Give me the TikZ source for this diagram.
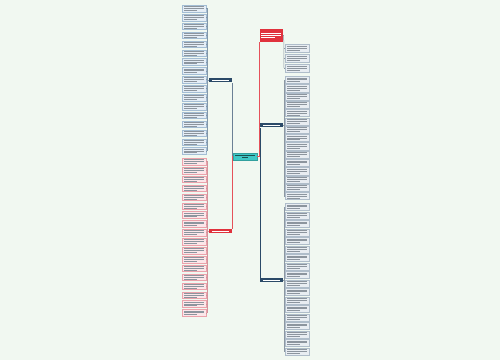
\documentclass[tikz,border=0pt]{standalone}
\usetikzlibrary{calc}
\definecolor{bg}{HTML}{F1F8F1}
\definecolor{navy}{HTML}{2B4A68}
\definecolor{redn}{HTML}{E0323D}
\definecolor{teal}{HTML}{3EC8C6}
\definecolor{lbfill}{HTML}{E4EDF6}
\definecolor{lbline}{HTML}{A3BDD4}
\definecolor{lpfill}{HTML}{FCE6E9}
\definecolor{lpline}{HTML}{EBA2AB}
\definecolor{rfill}{HTML}{E8EDF2}
\definecolor{rline}{HTML}{AFBDCA}
\definecolor{txt}{HTML}{8C959E}
\newcommand{\lthree}{\rule{20pt}{0.6pt}\\\rule{20pt}{0.6pt}\\\rule{13pt}{0.6pt}}
\newcommand{\lwthree}{\rule{20pt}{0.7pt}\\\rule{20pt}{0.7pt}\\\rule{14pt}{0.7pt}}
\tikzset{
  leafbase/.style={rectangle, draw, line width=0.3pt, minimum width=24pt,
    inner sep=0pt, anchor=north west, align=left, text=txt,
    font=\fontsize{2}{1.9}\selectfont},
  leafB/.style={leafbase, fill=lbfill, draw=lbline, minimum height=6.6pt},
  leafP/.style={leafbase, fill=lpfill, draw=lpline, minimum height=6.6pt},
  leafR/.style={leafbase, fill=rfill, draw=rline, minimum height=7.2pt},
  bnode/.style={rectangle, fill=navy, minimum width=23pt, minimum height=4.6pt,
    inner sep=0pt, text=white, font=\fontsize{2}{2}\selectfont},
  rnode/.style={rectangle, fill=redn, minimum width=23pt, inner sep=0pt,
    text=white, font=\fontsize{2}{2}\selectfont},
  rootnode/.style={rectangle, fill=teal, draw=teal!80!black, line width=0.3pt,
    minimum width=24pt, minimum height=7pt, inner sep=0pt, align=center,
    text=teal!40!black, font=\fontsize{2}{2.2}\selectfont},
  conB/.style={draw=lbline!80!black, line width=0.5pt},
  conP/.style={draw=lpline!90!black, line width=0.5pt},
  conR/.style={draw=rline!80!black, line width=0.5pt},
  conRed/.style={draw=redn!85, line width=0.6pt},
  conNavy/.style={draw=navy, line width=0.6pt},
  conGray/.style={draw=navy!70, line width=0.6pt},
}
\begin{document}
\begin{tikzpicture}[x=1pt,y=-1pt]
\fill[bg] (0,0) rectangle (500,360);
\useasboundingbox (0,0) rectangle (500,360);

% root
\node[rootnode] (root) at (245,156.5) {\rule{20pt}{0.6pt}\\\rule{6pt}{0.6pt}};

% left-top branch
\node[bnode] (lb) at (220.5,80) {\rule{17pt}{0.7pt}};
\foreach \i in {0,...,16}
  \node[leafB] (lt\i) at (182,{5+\i*8.9}) {\lthree};
\foreach \i in {0,...,16}
  \draw[conB] (lt\i.east) -- ++(1,0);
\draw[conB] ($(lt0.east)+(1,0)$) -- ($(lt16.east)+(1,0)$);
\draw[conB] (lb.west) -- ++(-2,0);

% left-bottom branch
\node[rnode, minimum height=4.6pt] (lr) at (220.5,231) {\rule{17pt}{0.7pt}};
\foreach \i in {0,...,17}
  \node[leafP] (lp\i) at (182,{158+\i*8.9}) {\lthree};
\foreach \i in {0,...,17}
  \draw[conP] (lp\i.east) -- ++(1,0);
\draw[conP] ($(lp0.east)+(1,0)$) -- ($(lp17.east)+(1,0)$);
\draw[conP] (lr.west) -- ++(-2,0);

% right red branch
\node[rnode, minimum height=13pt, align=left] (r1) at (271,35.5) {\lwthree};
\foreach \i in {0,...,2}
  \node[leafR, minimum height=8pt] (ra\i) at (285,{44+\i*10}) {\lthree};
\foreach \i in {0,...,2}
  \draw[conR] (ra\i.west) -- ++(-1,0);
\draw[conR] ($(r1.east)+(1,0)$) -- ($(ra2.west)+(-1,0)$);
\draw[conR] (r1.east) -- ++(1,0);

% right middle branch
\node[bnode] (r2) at (271.5,125) {\rule{17pt}{0.7pt}};
\foreach \i in {0,...,14}
  \node[leafR] (rb\i) at (285,{76+\i*8.3}) {\lthree};
\foreach \i in {0,...,14}
  \draw[conR] (rb\i.west) -- ++(-1,0);
\draw[conR] ($(rb0.west)+(-1,0)$) -- ($(rb14.west)+(-1,0)$);
\draw[conR] (r2.east) -- ++(1,0);

% right bottom branch
\node[bnode] (r3) at (271.5,280) {\rule{17pt}{0.7pt}};
\foreach \i in {0,...,17}
  \node[leafR] (rc\i) at (285,{203+\i*8.5}) {\lthree};
\foreach \i in {0,...,17}
  \draw[conR] (rc\i.west) -- ++(-1,0);
\draw[conR] ($(rc0.west)+(-1,0)$) -- ($(rc17.west)+(-1,0)$);
\draw[conR] (r3.east) -- ++(1,0);

% root connectors
\draw[conGray] (root.west) -| (lb.south east);
\draw[conRed] (root.west) -| (lr.north east);
\draw[conNavy] (root.east) -| (r2.south west);
\draw[conNavy] (root.east) -| (r3.north west);
\draw[conRed] (root.east) -| (r1.south west);
\end{tikzpicture}
\end{document}
